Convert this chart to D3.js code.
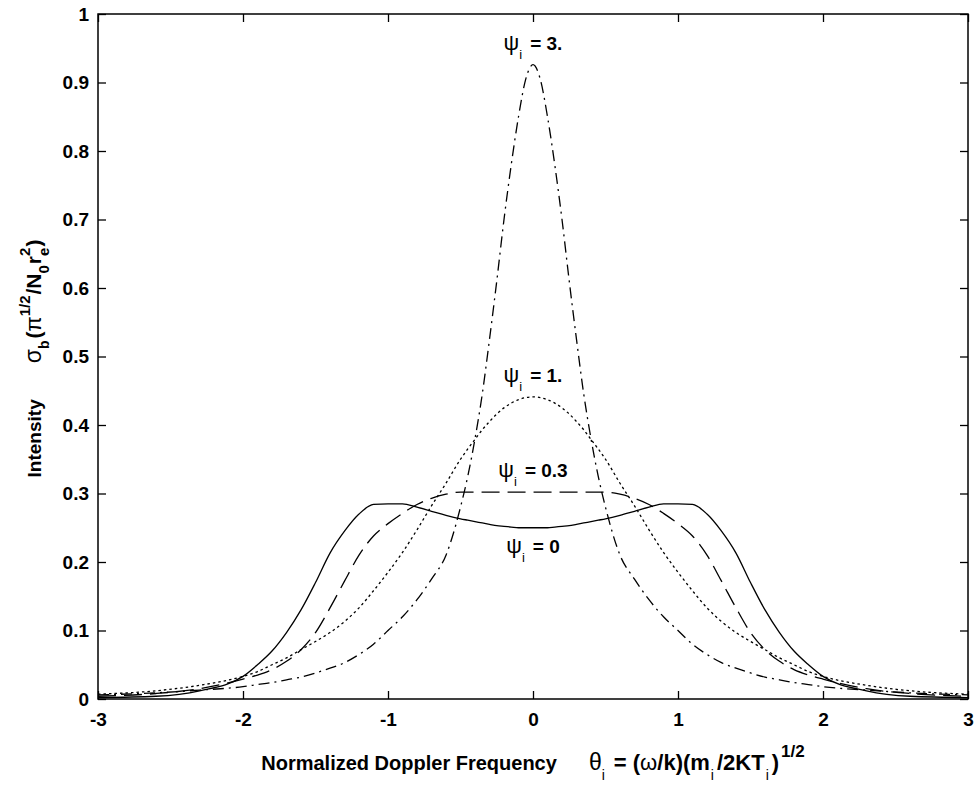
<!DOCTYPE html>
<html>
<head>
<meta charset="utf-8">
<script src="https://cdn.jsdelivr.net/npm/d3@7/dist/d3.min.js"></script>
<style>
  html, body { margin: 0; padding: 0; background: #fff; }
  svg { display: block; }
  text, tspan { font-family: "Liberation Sans", Arial, Helvetica, sans-serif; fill: #000; }
</style>
</head>
<body>
<svg id="chart" width="974" height="787"></svg>
<script>
// Normalized Doppler frequency grid (shared by all spectra)
const theta = [-3, -2.6, -2.3, -2.0, -1.9, -1.8, -1.7, -1.6, -1.5, -1.4, -1.3, -1.2, -1.1, -1.0,
  -0.9, -0.8, -0.7, -0.6, -0.5, -0.45, -0.4, -0.35, -0.3, -0.25, -0.2, -0.15, -0.1, -0.05,
  0,
  0.05, 0.1, 0.15, 0.2, 0.25, 0.3, 0.35, 0.4, 0.45, 0.5, 0.6, 0.7, 0.8, 0.9,
  1.0, 1.1, 1.2, 1.3, 1.4, 1.5, 1.6, 1.7, 1.8, 1.9, 2.0, 2.3, 2.6, 3];

// Ion-line intensity for each collision parameter psi_i
const psi0 = [0.002, 0.004, 0.012, 0.033, 0.050, 0.070, 0.097, 0.130, 0.170, 0.213, 0.245, 0.270, 0.284, 0.285,
  0.285, 0.280, 0.274, 0.268, 0.263, 0.261, 0.259, 0.257, 0.255, 0.253, 0.252, 0.251, 0.250, 0.250,
  0.250,
  0.250, 0.250, 0.251, 0.252, 0.253, 0.255, 0.257, 0.259, 0.261, 0.263, 0.268, 0.274, 0.280, 0.285,
  0.285, 0.284, 0.270, 0.245, 0.213, 0.170, 0.130, 0.097, 0.070, 0.050, 0.033, 0.012, 0.004, 0.002];

const psi03 = [0.004, 0.008, 0.015, 0.029, 0.035, 0.043, 0.055, 0.072, 0.097, 0.133, 0.172, 0.210, 0.238, 0.256,
  0.271, 0.284, 0.293, 0.299, 0.302, 0.302, 0.302, 0.302, 0.302, 0.302, 0.302, 0.302, 0.302, 0.302,
  0.302,
  0.302, 0.302, 0.302, 0.302, 0.302, 0.302, 0.302, 0.302, 0.302, 0.302, 0.299, 0.293, 0.284, 0.271,
  0.256, 0.238, 0.210, 0.172, 0.133, 0.097, 0.072, 0.055, 0.043, 0.035, 0.029, 0.015, 0.008, 0.004];

const psi1 = [0.007, 0.012, 0.020, 0.033, 0.040, 0.050, 0.060, 0.072, 0.084, 0.097, 0.113, 0.133, 0.158, 0.185,
  0.214, 0.247, 0.282, 0.315, 0.350, 0.365, 0.379, 0.393, 0.405, 0.416, 0.425, 0.432, 0.437, 0.440,
  0.441,
  0.440, 0.437, 0.432, 0.425, 0.416, 0.405, 0.393, 0.379, 0.365, 0.350, 0.315, 0.282, 0.247, 0.214,
  0.185, 0.158, 0.133, 0.113, 0.097, 0.084, 0.072, 0.060, 0.050, 0.040, 0.033, 0.020, 0.012, 0.007];

const psi3 = [0.006, 0.009, 0.013, 0.018, 0.021, 0.024, 0.028, 0.032, 0.038, 0.045, 0.053, 0.065, 0.080, 0.100,
  0.120, 0.145, 0.175, 0.210, 0.280, 0.325, 0.380, 0.445, 0.525, 0.610, 0.700, 0.780, 0.850, 0.905,
  0.926,
  0.905, 0.850, 0.780, 0.700, 0.610, 0.525, 0.445, 0.380, 0.325, 0.280, 0.210, 0.175, 0.145, 0.120,
  0.100, 0.080, 0.065, 0.053, 0.045, 0.038, 0.032, 0.028, 0.024, 0.021, 0.018, 0.013, 0.009, 0.006];

// Axis ticks
const xTicks = [-3, -2, -1, 0, 1, 2, 3];
const xTickLabels = ["-3", "-2", "-1", "0", "1", "2", "3"];
const yTicks = [0, 0.1, 0.2, 0.3, 0.4, 0.5, 0.6, 0.7, 0.8, 0.9, 1];
const yTickLabels = ["0", "0.1", "0.2", "0.3", "0.4", "0.5", "0.6", "0.7", "0.8", "0.9", "1"];

// Curve annotations: psi value text and its anchor in data units
const curveLabelText = ["3.", "1.", "0.3", "0"];
const curveLabelX = [0, 0, 0, 0];
const curveLabelY = [0.947, 0.463, 0.324, 0.213];

const series = [
  { values: psi0,  dash: null },
  { values: psi03, dash: "18,8" },
  { values: psi1,  dash: "2.5,3" },
  { values: psi3,  dash: "11,5,2,5" }
];

const svg = d3.select("#chart");
const margin = { left: 98, top: 14, right: 6, bottom: 88 };
const W = 974, H = 787;
const x = d3.scaleLinear().domain([-3, 3]).range([margin.left, W - margin.right]);
const y = d3.scaleLinear().domain([0, 1]).range([H - margin.bottom, margin.top]);

const tickFont = 19;

// Curves
const line = d3.line()
  .x((d, i) => x(theta[i]))
  .y(d => y(d))
  .curve(d3.curveMonotoneX);

const plot = svg.append("g");
series.forEach(s => {
  plot.append("path")
    .attr("d", line(s.values))
    .attr("fill", "none")
    .attr("stroke", "#000")
    .attr("stroke-width", 1.3)
    .attr("stroke-dasharray", s.dash);
});

// Axes with inward ticks on all four sides
const tickLen = 8;
const gx = svg.append("g").attr("transform", `translate(0,${y(0)})`)
  .call(d3.axisBottom(x).tickValues(xTicks).tickFormat((d, i) => xTickLabels[i])
    .tickSizeInner(-tickLen).tickSizeOuter(0).tickPadding(14));
const gy = svg.append("g").attr("transform", `translate(${x(-3)},0)`)
  .call(d3.axisLeft(y).tickValues(yTicks).tickFormat((d, i) => yTickLabels[i])
    .tickSizeInner(-tickLen).tickSizeOuter(0).tickPadding(9));
const gxt = svg.append("g").attr("transform", `translate(0,${y(1)})`)
  .call(d3.axisTop(x).tickValues(xTicks).tickFormat("")
    .tickSizeInner(-tickLen).tickSizeOuter(0));
const gyr = svg.append("g").attr("transform", `translate(${x(3)},0)`)
  .call(d3.axisRight(y).tickValues(yTicks).tickFormat("")
    .tickSizeInner(-tickLen).tickSizeOuter(0));

[gx, gy, gxt, gyr].forEach(g => {
  g.select(".domain").remove();
  g.selectAll(".tick line").attr("stroke", "#000").attr("stroke-width", 1.3);
  g.selectAll(".tick text")
    .attr("font-family", "Liberation Sans, Arial, sans-serif")
    .attr("font-size", tickFont)
    .attr("font-weight", "bold")
    .attr("fill", "#000");
});

// Plot frame
svg.append("rect")
  .attr("x", x(-3)).attr("y", y(1))
  .attr("width", x(3) - x(-3)).attr("height", y(0) - y(1))
  .attr("fill", "none").attr("stroke", "#000").attr("stroke-width", 1.5);

// Helper: append a run of text to a <text> element
function run(parent, str, opts = {}) {
  const t = parent.append("tspan").text(str);
  if (opts.size) t.attr("font-size", opts.size);
  if (opts.weight) t.attr("font-weight", opts.weight);
  if (opts.dx) t.attr("dx", opts.dx);
  if (opts.dy) t.attr("dy", opts.dy);
  return t;
}

// Curve labels: "ψ_i = value"
curveLabelText.forEach((t, i) => {
  const tx = svg.append("text")
    .attr("x", x(curveLabelX[i]))
    .attr("y", y(curveLabelY[i]))
    .attr("text-anchor", "middle")
    .attr("font-size", 19)
    .attr("font-weight", "bold");
  run(tx, "ψ", { size: 22, weight: "normal" });
  run(tx, "i", { size: 13, weight: "normal", dy: 9 });
  run(tx, "= " + t, { dx: 8, dy: -9 });
});

// X-axis title
const xt = svg.append("text")
  .attr("x", (x(-3) + x(3)) / 2)
  .attr("y", 770)
  .attr("text-anchor", "middle")
  .attr("font-size", 20)
  .attr("font-weight", "bold");
run(xt, "Normalized Doppler Frequency");
run(xt, "θ", { size: 23, weight: "normal", dx: 32 });
run(xt, "i", { size: 14, weight: "normal", dy: 10 });
run(xt, "= (", { size: 22, dx: 9, dy: -10 });
run(xt, "ω", { size: 22, weight: "normal" });
run(xt, "/k)(m", { size: 22 });
run(xt, "i", { size: 14, weight: "normal", dx: 1, dy: 10 });
run(xt, "/2KT", { size: 22, dx: 3, dy: -10 });
run(xt, "i", { size: 14, weight: "normal", dx: 1, dy: 10 });
run(xt, ")", { size: 22, dx: 3, dy: -10 });
run(xt, "1/2", { size: 17, dx: 2, dy: -13 });

// Y-axis title (rotated)
const yt = svg.append("text")
  .attr("transform", `translate(41,${(y(0) + y(1)) / 2 + 2}) rotate(-90)`)
  .attr("text-anchor", "middle")
  .attr("font-size", 19)
  .attr("font-weight", "bold");
run(yt, "Intensity");
run(yt, "σ", { size: 23, weight: "normal", dx: 36 });
run(yt, "b", { size: 14, dy: 8 });
run(yt, "(", { size: 21, dx: 2, dy: -8 });
run(yt, "π", { size: 22, weight: "normal" });
run(yt, "1/2", { size: 15, dy: -11 });
run(yt, "/N", { size: 21, dx: 1, dy: 11 });
run(yt, "0", { size: 15, dy: 8 });
run(yt, "r", { size: 21, dx: 1, dy: -8 });
run(yt, "2", { size: 15, dy: -11 });
run(yt, "e", { size: 15, dx: -8.3, dy: 19 });
run(yt, ")", { size: 21, dx: 1, dy: -8 });
</script>
</body>
</html>
